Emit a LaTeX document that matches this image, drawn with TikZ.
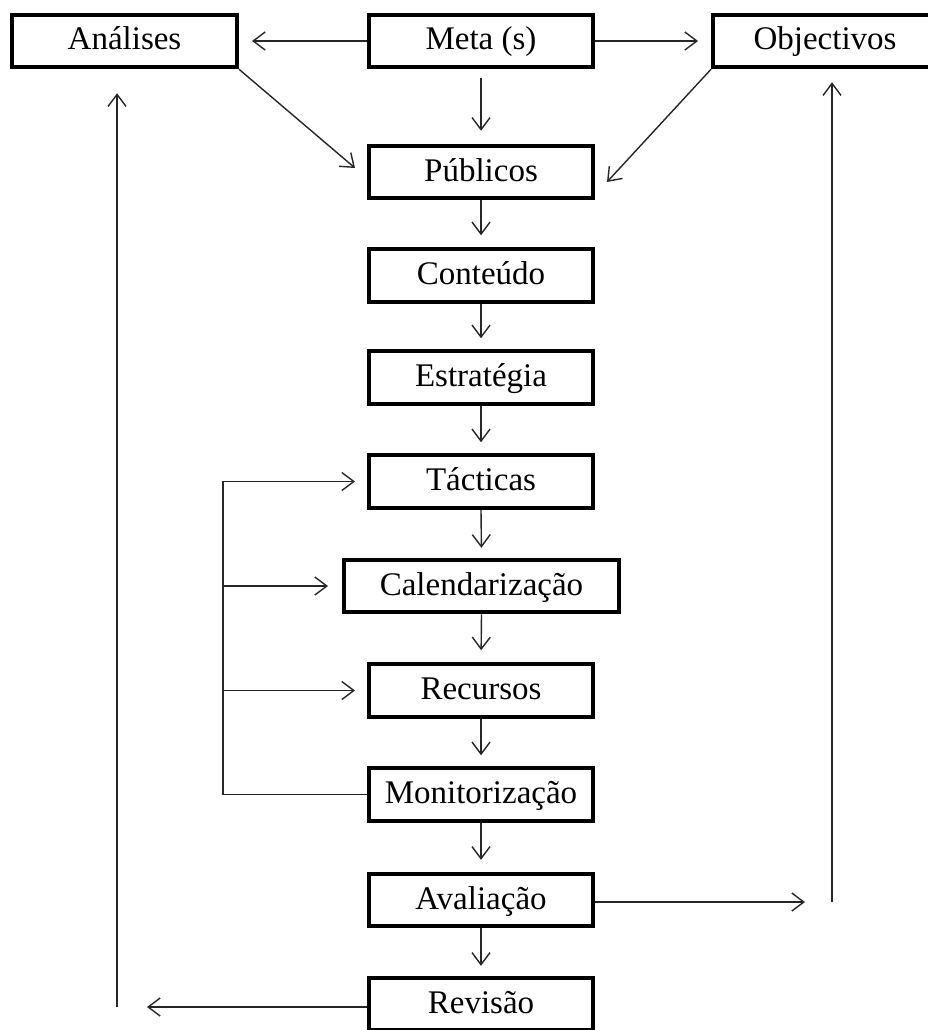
\documentclass[tikz,border=0pt]{standalone}
\usepackage{fontspec}
\setmainfont{Liberation Serif}
\usetikzlibrary{arrows.meta}
\begin{document}
\begin{tikzpicture}[x=1pt,y=-1pt,
  box/.style={draw, line width=4pt, minimum width=224pt, minimum height=52.5pt,
    inner sep=0pt, text height=24pt, text depth=6pt,
    font=\fontsize{33}{40}\selectfont},
  conn/.style={draw=black!85, line width=1.4pt},
  arr/.style={conn, -{Straight Barb[length=12pt,width=18pt,line width=1.4pt]}}]
\useasboundingbox (0,0) rectangle (928,1030);

% top row
\node[box, minimum width=225pt] (ana) at (124.5,41) {Análises};
\node[box] (meta) at (481,41) {Meta (s)};
\node[box] (obj) at (825,41) {Objectivos};

% main chain
\node[box] (pub) at (481,172) {Públicos};
\node[box] (con) at (481,275.5) {Conteúdo};
\node[box] (est) at (481,377.5) {Estratégia};
\node[box] (tac) at (481,481.5) {Tácticas};
\node[box, minimum width=275pt] (cal) at (481.5,586) {Calendarização};
\node[box] (rec) at (481,690.5) {Recursos};
\node[box] (mon) at (481,794.5) {Monitorização};
\node[box] (ava) at (481,900) {Avaliação};
\node[box] (rev) at (481,1004) {Revisão};

% helper points for the feedback paths
\coordinate (lx) at (223,0);
\coordinate (rx) at (832,902);
\coordinate (lb) at (117,1007);

% top row links
\draw[arr, shorten >=13pt] (meta.west) -- (ana.east);
\draw[arr, shorten >=13pt] (meta.east) -- (obj.west);
\draw[arr, shorten <=9pt, shorten >=13pt] (meta.south) -- (pub.north);
\draw[arr] (ana.south east) -- ([xshift=-12pt,yshift=4pt]pub.west);
\draw[arr] (obj.south west) -- ([xshift=12pt,yshift=-10pt]pub.east);

% vertical chain
\draw[arr, shorten >=12pt] (pub.south) -- (con.north);
\draw[arr, shorten >=11pt] (con.south) -- (est.north);
\draw[arr, shorten >=11pt] (est.south) -- (tac.north);
\draw[arr, shorten >=10pt] (tac.south) -- (cal.north);
\draw[arr, shorten >=12pt] (cal.south) -- (rec.north);
\draw[arr, shorten >=11pt] (rec.south) -- (mon.north);
\draw[arr, shorten >=12pt] (mon.south) -- (ava.north);
\draw[arr, shorten >=10pt] (ava.south) -- (rev.north);

% monitoring loop back to tactics, scheduling and resources
\draw[arr, shorten >=12pt] (mon.west) -- (mon.west -| lx) |- (tac.west);
\draw[arr, shorten >=14pt] (cal.west -| lx) -- (cal.west);
\draw[arr, shorten >=12pt] (rec.west -| lx) -- (rec.west);

% evaluation feeds back to objectives
\draw[arr, shorten >=27pt] (ava.east |- rx) -- (rx);
\draw[arr, shorten >=13pt] (rx) -- (rx |- obj.south);

% revision feeds back to analyses
\draw[arr, shorten >=30pt] (rev.west |- lb) -- (lb);
\draw[arr, shorten >=24pt] (lb) -- (lb |- ana.south);
\end{tikzpicture}
\end{document}
